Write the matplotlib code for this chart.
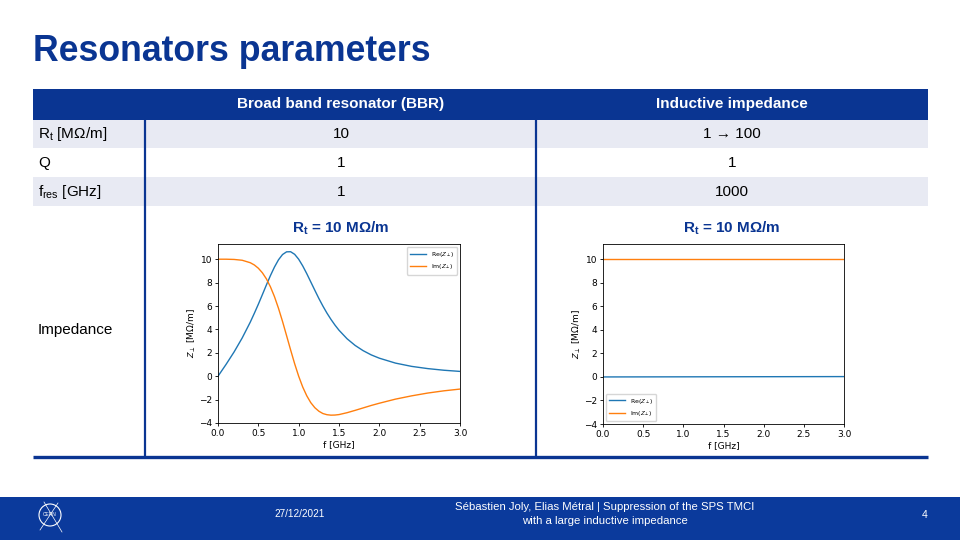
import matplotlib
matplotlib.use('Agg')
import matplotlib.pyplot as plt
from matplotlib.patches import Rectangle, Circle

plt.rcParams['mathtext.fontset'] = 'custom'
plt.rcParams['mathtext.rm'] = 'Liberation Sans'
plt.rcParams['mathtext.it'] = 'Liberation Sans:italic'
plt.rcParams['mathtext.bf'] = 'Liberation Sans:bold'

SLIDE_FONT = ['Liberation Sans', 'DejaVu Sans']
BLUE = '#0a3592'
ROW_FILL = '#e8eaf3'

# table content
col_headers = ['Broad band resonator (BBR)', 'Inductive impedance']
row_labels = [r'R$_\mathrm{t}$ [MΩ/m]', 'Q', r'f$_\mathrm{res}$ [GHz]']
bbr_values = ['10', '1', '1']
ind_values = ['1 → 100', '1', '1000']
plot_titles = [r'R$_\mathbf{t}$ = 10 MΩ/m', r'R$_\mathbf{t}$ = 10 MΩ/m']

# BBR impedance
bbr_f = [0.0, 0.1, 0.2, 0.3, 0.4, 0.45, 0.5, 0.55, 0.6, 0.65, 0.7, 0.75, 0.8,
         0.85, 0.9, 0.95, 1.0, 1.05, 1.1, 1.15, 1.2, 1.25, 1.3, 1.35, 1.4,
         1.45, 1.5, 1.6, 1.7, 1.8, 1.9, 2.0, 2.2, 2.4, 2.6, 2.8, 3.0]
bbr_re = [0.0, 1.01, 2.08, 3.27, 4.62, 5.37, 6.15, 6.97, 7.80, 8.60, 9.33, 9.95,
          10.40, 10.63, 10.64, 10.42, 10.0, 9.43, 8.77, 8.06, 7.35, 6.65, 6.00,
          5.40, 4.86, 4.37, 3.93, 3.20, 2.63, 2.18, 1.82, 1.54, 1.12, 0.84,
          0.65, 0.51, 0.41]
bbr_im = [10.0, 10.0, 9.98, 9.91, 9.70, 9.51, 9.23, 8.84, 8.32, 7.64, 6.80, 5.80,
          4.68, 3.47, 2.25, 1.07, 0.0, -0.92, -1.67, -2.26, -2.69, -2.99, -3.19,
          -3.29, -3.33, -3.32, -3.28, -3.12, -2.92, -2.71, -2.50, -2.31, -1.96,
          -1.68, -1.44, -1.25, -1.10]

# inductive impedance
ind_f = [0.0, 3.0]
ind_re = [0.0, 0.03]
ind_im = [10.0, 10.0]

fig = plt.figure(figsize=(9.6, 5.4), dpi=100)
bg = fig.add_axes([0, 0, 1, 1])
bg.set_xlim(0, 960)
bg.set_ylim(540, 0)
bg.axis('off')

# title
bg.text(33, 61, 'Resonators parameters', family=SLIDE_FONT, fontsize=25.7,
        fontweight='bold', color=BLUE, va='baseline', ha='left')

# table
bg.add_patch(Rectangle((33, 89), 895, 31, color=BLUE, lw=0))
bg.add_patch(Rectangle((33, 120), 895, 28, color=ROW_FILL, lw=0))
bg.add_patch(Rectangle((33, 177), 895, 29, color=ROW_FILL, lw=0))
col_x = [341, 732]
for x, h in zip(col_x, col_headers):
    bg.text(x, 104, h, family=SLIDE_FONT, fontsize=11, fontweight='bold',
            color='white', ha='center', va='center')
row_y = [134, 163, 192]
for y, lab, v1, v2 in zip(row_y, row_labels, bbr_values, ind_values):
    bg.text(38, y, lab, family=SLIDE_FONT, fontsize=11, ha='left', va='center')
    bg.text(col_x[0], y, v1, family=SLIDE_FONT, fontsize=11, ha='center', va='center')
    bg.text(col_x[1], y, v2, family=SLIDE_FONT, fontsize=11, ha='center', va='center')
for x, t in zip(col_x, plot_titles):
    bg.text(x, 228, t, family=SLIDE_FONT, fontsize=11, fontweight='bold',
            color=BLUE, ha='center', va='center')
bg.text(38, 330, 'Impedance', family=SLIDE_FONT, fontsize=11, ha='left', va='center')
bg.plot([145, 145], [120, 457], color=BLUE, lw=1.6)
bg.plot([536, 536], [120, 457], color=BLUE, lw=1.6)
bg.plot([33, 928], [457, 457], color=BLUE, lw=2.4, solid_capstyle='butt')

# footer
bg.add_patch(Rectangle((0, 497), 960, 43, color='#0b3a9c', lw=0))
bg.add_patch(Circle((50, 515), 11, fill=False, ec='white', lw=0.8))
bg.text(50, 515, 'CERN', family=SLIDE_FONT, fontsize=3.5, color='white',
        ha='center', va='center')
bg.plot([44, 62], [502, 532], color='white', lw=0.5)
bg.plot([40, 58], [530, 503], color='white', lw=0.5)
bg.text(300, 514, '27/12/2021', family=SLIDE_FONT, fontsize=7.2, color='white',
        ha='center', va='center')
bg.text(605, 507, 'Sébastien Joly, Elias Métral | Suppression of the SPS TMCI',
        family=SLIDE_FONT, fontsize=8.2, color='white', ha='center', va='center')
bg.text(605, 521.5, 'with a large inductive impedance', family=SLIDE_FONT,
        fontsize=8.2, color='white', ha='center', va='center')
bg.text(925, 515, '4', family=SLIDE_FONT, fontsize=7.5, color='white',
        ha='center', va='center')


def impedance_axes(rect, f, re, im, legend_loc):
    ax = fig.add_axes(rect)
    ax.plot(f, re, color='#1f77b4', lw=1.0, label=r'Re($Z_{\perp}$)')
    ax.plot(f, im, color='#ff7f0e', lw=1.0, label=r'Im($Z_{\perp}$)')
    ax.set_xlim(0, 3)
    ax.set_ylim(-4, 11.3)
    ax.set_xticks([0, 0.5, 1, 1.5, 2, 2.5, 3])
    ax.set_yticks([-4, -2, 0, 2, 4, 6, 8, 10])
    ax.tick_params(labelsize=6.5, length=2.5, width=0.6, pad=1.5)
    for s in ax.spines.values():
        s.set_linewidth(0.6)
    ax.set_xlabel('f [GHz]', fontsize=6.5, labelpad=1.5)
    ax.set_ylabel(r'$Z_{\perp}$ [MΩ/m]', fontsize=6.5, labelpad=1)
    ax.legend(loc=legend_loc, fontsize=4.5, handlelength=2.5, borderpad=0.5)
    return ax


impedance_axes([218 / 960, 117 / 540, 242 / 960, 179 / 540],
               bbr_f, bbr_re, bbr_im, 'upper right')
impedance_axes([603 / 960, 116 / 540, 241 / 960, 180 / 540],
               ind_f, ind_re, ind_im, 'lower left')

fig.savefig('out.png', dpi=100)
